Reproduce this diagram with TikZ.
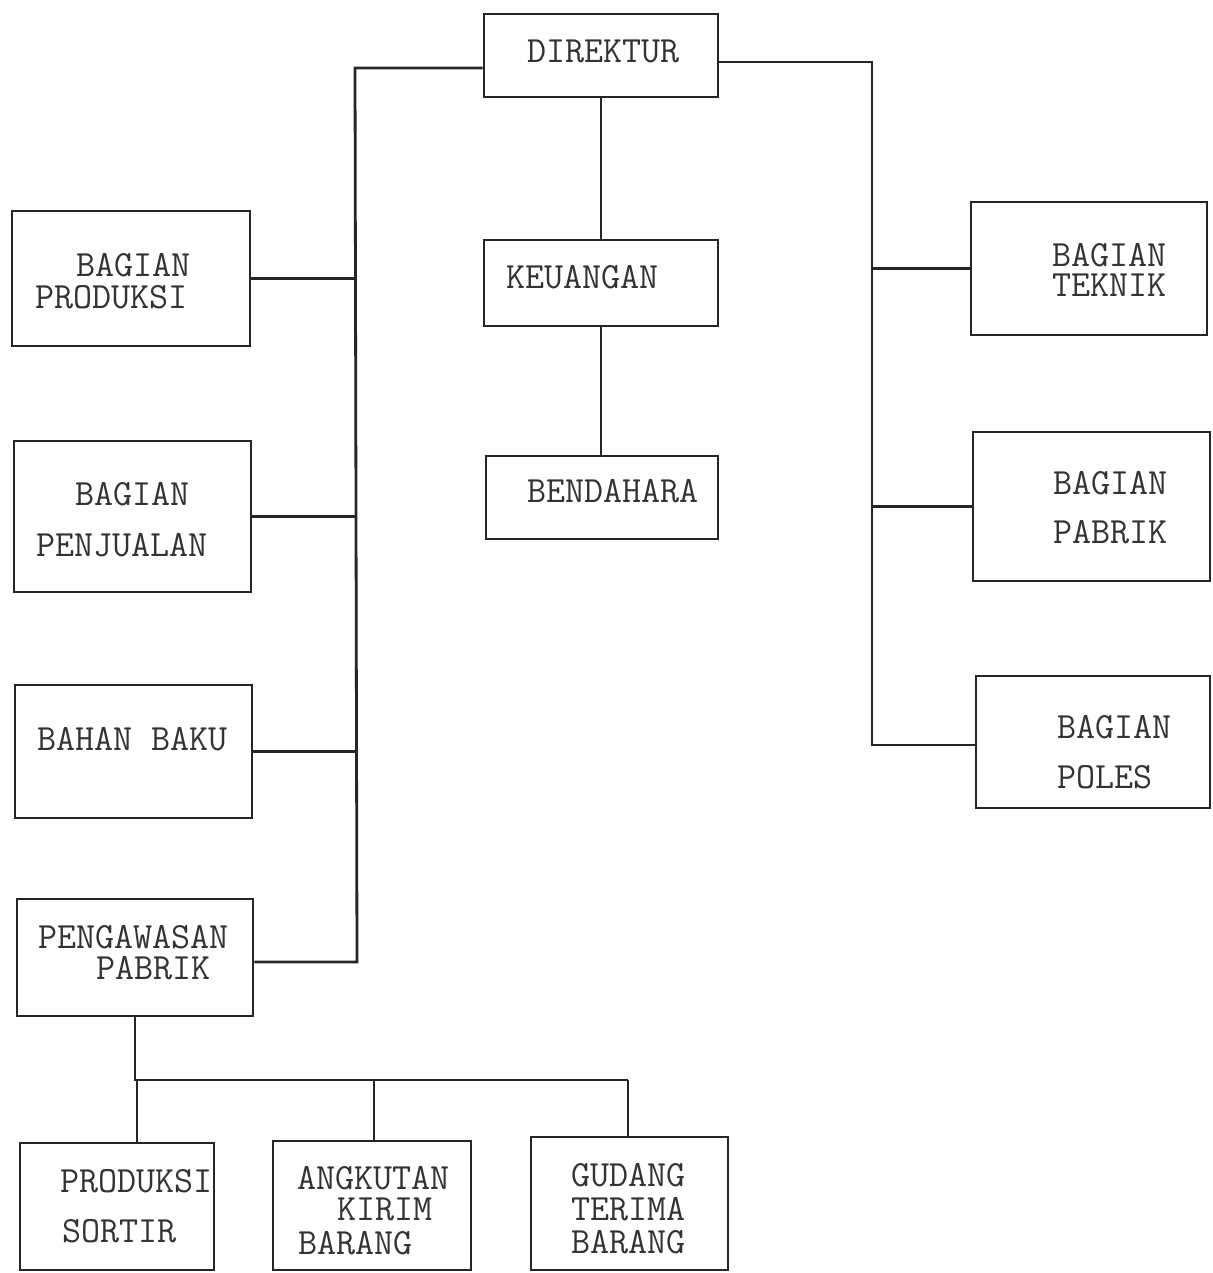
\documentclass[tikz,border=0pt]{standalone}
\begin{document}
\begin{tikzpicture}[x=0.5pt,y=-0.5pt,
  box/.style={draw=black!85,line width=1.4pt,rectangle,inner sep=0pt},
  txt/.style={anchor=base west,inner sep=0pt,text height=11.3pt,text depth=0pt,font=\ttfamily\fontsize{18.5}{20}\selectfont,text=black!80},
  conn/.style={draw=black!85,line width=1.4pt}]
\useasboundingbox[fill=white] (0,0) rectangle (1212,1273);
% boxes
\node[box,minimum width=117pt,minimum height=41.5pt] (dir) at (601,55.5) {};
\node[box,minimum width=117pt,minimum height=43pt] (keu) at (601,283) {};
\node[box,minimum width=116pt,minimum height=41.5pt] (ben) at (602,497.5) {};
\node[box,minimum width=119pt,minimum height=67.5pt] (prod) at (131,278.5) {};
\node[box,minimum width=118.5pt,minimum height=75.5pt] (penj) at (132.5,516.5) {};
\node[box,minimum width=118.5pt,minimum height=66.5pt] (bahan) at (133.5,751.5) {};
\node[box,minimum width=118pt,minimum height=58.5pt] (peng) at (135,957.5) {};
\node[box,minimum width=118pt,minimum height=66.5pt] (tek) at (1089,268.5) {};
\node[box,minimum width=118.5pt,minimum height=74.5pt] (pab) at (1091.5,506.5) {};
\node[box,minimum width=117pt,minimum height=66pt] (pol) at (1093,742) {};
\node[box,minimum width=97pt,minimum height=63.5pt] (sor) at (117,1206.5) {};
\node[box,minimum width=99pt,minimum height=64.5pt] (ang) at (372,1205.5) {};
\node[box,minimum width=98.5pt,minimum height=66.5pt] (gud) at (629.5,1203.5) {};
% texts (baseline = text centre + 11)
\node[txt] (t1) at (527,63) {DIREKTUR};
\node[txt] (t2) at (506,288) {KEUANGAN};
\node[txt] (t3) at (527,502) {BENDAHARA};
\node[txt] (t4) at (76,277) {BAGIAN};
\node[txt] (t5) at (35,308) {PRODUKSI};
\node[txt] (t6) at (75,505) {BAGIAN};
\node[txt] (t7) at (36,556) {PENJUALAN};
\node[txt] (t8) at (37,750) {BAHAN BAKU};
\node[txt] (t9) at (38,948) {PENGAWASAN};
\node[txt] (t10) at (96,979) {PABRIK};
\node[txt] (t11) at (1052,266) {BAGIAN};
\node[txt] (t12) at (1052,296) {TEKNIK};
\node[txt] (t13) at (1053,494) {BAGIAN};
\node[txt] (t14) at (1053,543) {PABRIK};
\node[txt] (t15) at (1057,738) {BAGIAN};
\node[txt] (t16) at (1057,788) {POLES};
\node[txt] (t17) at (60,1192) {PRODUKSI};
\node[txt] (t18) at (62,1242) {SORTIR};
\node[txt] (t19) at (297,1189) {ANGKUTAN};
\node[txt] (t20) at (337,1220) {KIRIM};
\node[txt] (t21) at (298,1254) {BARANG};
\node[txt] (t22) at (571,1186) {GUDANG};
\node[txt] (t23) at (571,1220) {TERIMA};
\node[txt] (t24) at (571,1253) {BARANG};
% connector joints
\coordinate (L) at (355,68);
\coordinate (Lb) at (357,962);
\coordinate (R) at (872,62);
\coordinate (Rb) at (872,745);
\coordinate (bj) at (135,1080);
\coordinate (d1) at (137,1080);
\coordinate (d2) at (374,1080);
\coordinate (d3) at (628,1080);
% connectors
\draw[conn] (L -| dir.west) -- (L) -- (Lb) -- (Lb -| peng.east);
\draw[conn] (prod.east) -- (prod.east -| L);
\draw[conn] (penj.east) -- (penj.east -| L);
\draw[conn] (bahan.east) -- (bahan.east -| L);
\draw[conn] (R -| dir.east) -- (R) -- (Rb) -- (Rb -| pol.west);
\draw[conn] (tek.west) -- (tek.west -| R);
\draw[conn] (pab.west) -- (pab.west -| R);
\draw[conn] (dir.south) -- (keu.north);
\draw[conn] (keu.south) -- (keu.south |- ben.north);
\draw[conn] (peng.south) -- (bj) -- (d3);
\draw[conn] (d1) -- (d1 |- sor.north);
\draw[conn] (d2) -- (d2 |- ang.north);
\draw[conn] (d3) -- (d3 |- gud.north);
\end{tikzpicture}
\end{document}
